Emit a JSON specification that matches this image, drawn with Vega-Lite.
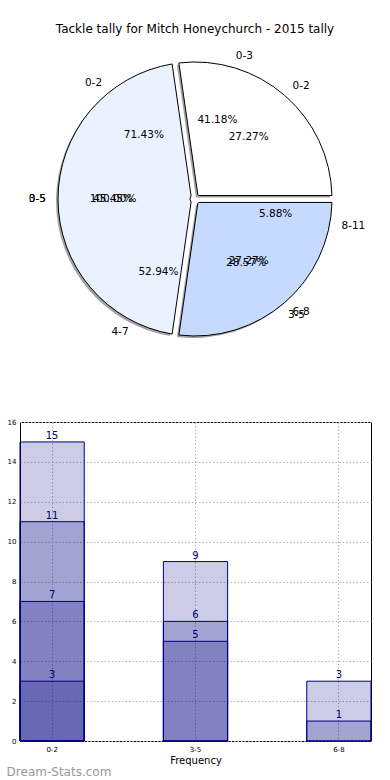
{
  "$schema": "https://vega.github.io/schema/vega-lite/v6.json",
  "padding": {"left": 6, "top": 23, "right": 0, "bottom": 0},
  "background": "white",
  "datasets": {
    "pies": [
      {"pie": "A", "bin": "0-3", "count": 7, "pct": "41.18%"},
      {"pie": "A", "bin": "4-7", "count": 9, "pct": "52.94%"},
      {"pie": "A", "bin": "8-11", "count": 1, "pct": "5.88%"},
      {"pie": "B", "bin": "0-2", "count": 3, "pct": "27.27%"},
      {"pie": "B", "bin": "3-5", "count": 5, "pct": "45.45%"},
      {"pie": "B", "bin": "6-8", "count": 3, "pct": "27.27%"},
      {"pie": "C", "bin": "0-2", "count": 5, "pct": "71.43%"},
      {"pie": "C", "bin": "3-5", "count": 2, "pct": "28.57%"},
      {"pie": "D", "bin": "0-5", "count": 1, "pct": "100.00%"}
    ],
    "bars": [
      {"bin": "0-2", "count": 15},
      {"bin": "0-2", "count": 11},
      {"bin": "0-2", "count": 7},
      {"bin": "0-2", "count": 3},
      {"bin": "3-5", "count": 9},
      {"bin": "3-5", "count": 6},
      {"bin": "3-5", "count": 5},
      {"bin": "6-8", "count": 3},
      {"bin": "6-8", "count": 1}
    ]
  },
  "title": {"text": "Dream-Stats.com", "orient": "bottom", "anchor": "start", "frame": "bounds", "fontSize": 12, "fontWeight": "normal", "color": "#999999", "offset": 1},
  "spacing": 71,
  "bounds": "flush",
  "vconcat": [
    {
      "title": {"text": "Tackle tally for Mitch Honeychurch - 2015 tally", "fontSize": 12, "fontWeight": "normal", "color": "black", "offset": 11, "anchor": "middle", "frame": "group"},
      "width": 350,
      "height": 304,
      "view": {"stroke": null},
      "data": {"name": "pies"},
      "encoding": {
        "theta": {"field": "count", "type": "quantitative", "stack": "normalize", "scale": {"range": [1.5707963, -4.712389]}},
        "order": {"field": "bin"}
      },
      "layer": [
        {"transform": [{"filter": "datum.pie == 'B'"}], "mark": {"type": "arc", "outerRadius": 137, "innerRadius": 5, "padAngle": 0.05, "fill": "#333333", "opacity": 0.45, "xOffset": -2, "yOffset": 2}},
        {"transform": [{"filter": "datum.pie == 'B'"}], "mark": {"type": "arc", "outerRadius": 137, "innerRadius": 5, "padAngle": 0.05, "stroke": "black", "strokeWidth": 1},
         "encoding": {"color": {"field": "bin", "type": "nominal", "scale": {"domain": ["0-2", "3-5", "6-8"], "range": ["#ffffff", "#eaf1ff", "#c6d9ff"]}, "legend": null}}},
        {"transform": [{"filter": "datum.pie == 'A'"}], "mark": {"type": "text", "radius": 149, "fontSize": 10.5, "baseline": "middle", "align": {"expr": "cos(PI*(datum.count_start+datum.count_end)) > 0 ? 'left' : 'right'"}}, "encoding": {"text": {"field": "bin"}}},
        {"transform": [{"filter": "datum.pie == 'A'"}], "mark": {"type": "text", "radius": 82, "fontSize": 10.5, "baseline": "middle", "align": "center"}, "encoding": {"text": {"field": "pct"}}},
        {"transform": [{"filter": "datum.pie == 'B'"}], "mark": {"type": "text", "radius": 149, "fontSize": 10.5, "baseline": "middle", "align": {"expr": "cos(PI*(datum.count_start+datum.count_end)) > 0 ? 'left' : 'right'"}}, "encoding": {"text": {"field": "bin"}}},
        {"transform": [{"filter": "datum.pie == 'B'"}], "mark": {"type": "text", "radius": 82, "fontSize": 10.5, "baseline": "middle", "align": "center"}, "encoding": {"text": {"field": "pct"}}},
        {"transform": [{"filter": "datum.pie == 'C'"}], "mark": {"type": "text", "radius": 149, "fontSize": 10.5, "baseline": "middle", "align": {"expr": "cos(PI*(datum.count_start+datum.count_end)) > 0 ? 'left' : 'right'"}}, "encoding": {"text": {"field": "bin"}}},
        {"transform": [{"filter": "datum.pie == 'C'"}], "mark": {"type": "text", "radius": 82, "fontSize": 10.5, "baseline": "middle", "align": "center"}, "encoding": {"text": {"field": "pct"}}},
        {"transform": [{"filter": "datum.pie == 'D'"}], "mark": {"type": "text", "radius": 149, "fontSize": 10.5, "baseline": "middle", "align": {"expr": "cos(PI*(datum.count_start+datum.count_end)) > 0 ? 'left' : 'right'"}}, "encoding": {"text": {"field": "bin"}}},
        {"transform": [{"filter": "datum.pie == 'D'"}], "mark": {"type": "text", "radius": 82, "fontSize": 10.5, "baseline": "middle", "align": "center"}, "encoding": {"text": {"field": "pct"}}}
      ]
    },
    {
      "width": 351,
      "height": 319,
      "data": {"name": "bars"},
      "encoding": {
        "x": {"field": "bin", "type": "nominal", "sort": ["0-2", "3-5", "6-8"], "scale": {"paddingInner": 0.552, "paddingOuter": 0},
              "axis": {"title": "Frequency", "labelAngle": 0, "labelFontSize": 7, "labelColor": "black", "ticks": false, "labelPadding": 4, "grid": true, "bandPosition": 0.5, "gridDash": [1.5, 2], "gridColor": "#b5b5b5", "titleFontSize": 10, "titleFontWeight": "normal", "titleColor": "black", "titlePadding": 3, "domain": false}},
        "y": {"field": "count", "type": "quantitative", "stack": null, "scale": {"domain": [0, 16], "nice": false},
              "axis": {"title": null, "values": [0, 2, 4, 6, 8, 10, 12, 14, 16], "labelFontSize": 7, "labelColor": "black", "ticks": false, "labelPadding": 4, "grid": true, "gridDash": [1.5, 2], "gridColor": "#b5b5b5", "domain": false}}
      },
      "layer": [
        {"mark": {"type": "bar", "fill": "#000080", "fillOpacity": 0.2, "stroke": "#000080", "strokeWidth": 1}},
        {"mark": {"type": "text", "color": "#000080", "fontSize": 10, "baseline": "alphabetic", "dy": -3}, "encoding": {"text": {"field": "count", "type": "quantitative"}}}
      ]
    }
  ],
  "config": {
    "font": "DejaVu Sans",
    "view": {"stroke": "black", "strokeWidth": 1}
  }
}
